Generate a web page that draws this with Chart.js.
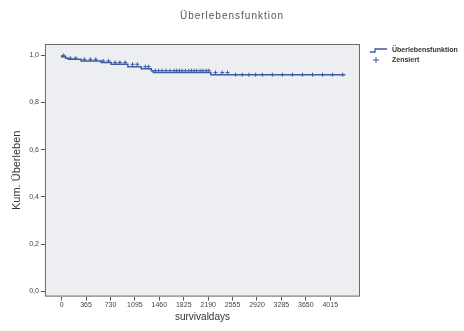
<!DOCTYPE html>
<html>
<head>
<meta charset="utf-8">
<script src="https://cdn.jsdelivr.net/npm/chart.js@4"></script>
<style>
  html, body { margin: 0; padding: 0; background: #fff; }
  #wrap { width: 464px; height: 331px; }
</style>
</head>
<body>
<div id="wrap"><canvas id="km"></canvas></div>
<script>
// Kaplan-Meier curve (days, cumulative survival)
const stepDays = [0, 60, 100, 290, 590, 740, 990, 1190, 1340, 1370, 2230, 2530, 4240];
const stepSurv = [1.0, 0.994, 0.988, 0.983, 0.976, 0.970, 0.962, 0.952, 0.943, 0.935, 0.927, 0.918, 0.918];
// censored cases (days)
const censorDays = [30, 130, 210, 340, 430, 510, 620, 700, 800, 870, 950, 1060, 1130, 1250, 1300, 1400,
  1450, 1500, 1560, 1620, 1680, 1720, 1760, 1800, 1850, 1900, 1940, 1980, 2020, 2070, 2110, 2160,
  2200, 2300, 2400, 2480, 2600, 2700, 2800, 2900, 3000, 3150, 3300, 3450, 3600, 3750, 3900, 4050, 4200];
const xTicks = [0, 365, 730, 1095, 1460, 1825, 2190, 2555, 2920, 3285, 3650, 4015];
const yTicks = [0, 0.2, 0.4, 0.6, 0.8, 1.0];
const chartTitle = 'Überlebensfunktion';

const curve = stepDays.map((d, i) => ({ x: d, y: stepSurv[i] }));
// put each censor mark on the curve at its day
function survAt(day) {
  let s = stepSurv[0];
  for (let i = 0; i < stepDays.length; i++) {
    if (stepDays[i] <= day) s = stepSurv[i];
  }
  return s;
}
const censored = censorDays.map((d) => ({ x: d, y: survAt(d) }));

const lineColor = '#3e5aa0';
const font = 'Arial, Liberation Sans';

const frame = {
  id: 'frame',
  beforeDraw(chart) {
    const { ctx, chartArea: a } = chart;
    ctx.save();
    ctx.fillStyle = '#eceef2';
    ctx.fillRect(a.left, a.top, a.right - a.left, a.bottom - a.top);
    ctx.restore();
  },
  afterDraw(chart) {
    const { ctx, chartArea: a } = chart;
    ctx.save();
    ctx.strokeStyle = '#6b6b6b';
    ctx.lineWidth = 1;
    ctx.strokeRect(a.left + 0.5, a.top + 0.5, a.right - a.left - 1, a.bottom - a.top - 1);

    // title centred on the whole picture
    ctx.fillStyle = '#555';
    ctx.font = '10px ' + font;
    ctx.letterSpacing = '1px';
    ctx.textAlign = 'center';
    ctx.textBaseline = 'middle';
    ctx.fillText(chartTitle, chart.width / 2, 16);

    // legend, to the right of the plot like SPSS
    ctx.letterSpacing = '0px';
    ctx.textAlign = 'left';
    const lx = a.right + 10;
    let ly = a.top + 6;
    ctx.font = 'bold 7px ' + font;
    ctx.fillStyle = '#333';
    ctx.strokeStyle = lineColor;
    ctx.lineWidth = 1.3;
    ctx.beginPath();
    ctx.moveTo(lx, ly + 2);
    ctx.lineTo(lx + 5, ly + 2);
    ctx.lineTo(lx + 5, ly - 1);
    ctx.lineTo(lx + 17, ly - 1);
    ctx.stroke();
    ctx.fillText(chart.data.datasets[0].label, lx + 22, ly);
    ly += 10;
    ctx.lineWidth = 1;
    ctx.beginPath();
    ctx.moveTo(lx + 6, ly - 3);
    ctx.lineTo(lx + 6, ly + 3);
    ctx.moveTo(lx + 3, ly);
    ctx.lineTo(lx + 9, ly);
    ctx.stroke();
    ctx.fillText(chart.data.datasets[1].label, lx + 22, ly);
    ctx.restore();
  },
};

new Chart(document.getElementById('km'), {
  type: 'scatter',
  data: {
    datasets: [
      {
        label: 'Überlebensfunktion',
        data: curve,
        showLine: true,
        stepped: 'after',
        borderColor: lineColor,
        backgroundColor: lineColor,
        borderWidth: 1.5,
        pointRadius: 0,
      },
      {
        label: 'Zensiert',
        data: censored,
        showLine: false,
        pointStyle: 'cross',
        pointRadius: 2,
        borderColor: lineColor,
        backgroundColor: lineColor,
        borderWidth: 1,
      },
    ],
  },
  options: {
    responsive: true,
    maintainAspectRatio: false,
    animation: false,
    layout: { padding: { top: 44, right: 104, left: 10, bottom: 8 } },
    plugins: {
      legend: { display: false },
      tooltip: { enabled: false },
    },
    scales: {
      x: {
        type: 'linear',
        min: -250,
        max: 4460,
        afterBuildTicks: (axis) => { axis.ticks = xTicks.map((v) => ({ value: v })); },
        grid: { drawOnChartArea: false, tickLength: 4, color: '#555' },
        border: { display: false },
        ticks: {
          color: '#444',
          padding: 0,
          maxRotation: 0,
          font: { family: font, size: 7 },
          callback: (v) => String(v),
        },
        title: {
          display: true,
          text: 'survivaldays',
          color: '#333',
          padding: { top: 2, bottom: 0 },
          font: { family: font, size: 10 },
        },
      },
      y: {
        type: 'linear',
        min: -0.022,
        max: 1.048,
        afterBuildTicks: (axis) => { axis.ticks = yTicks.map((v) => ({ value: v })); },
        grid: { drawOnChartArea: false, tickLength: 4, color: '#555' },
        border: { display: false },
        ticks: {
          color: '#444',
          padding: 2,
          font: { family: font, size: 7 },
          callback: (v) => v.toFixed(1).replace('.', ','),
        },
        title: {
          display: true,
          text: 'Kum. Überleben',
          color: '#333',
          padding: { top: 0, bottom: 4 },
          font: { family: font, size: 11 },
        },
      },
    },
  },
  plugins: [frame],
});
</script>
</body>
</html>
